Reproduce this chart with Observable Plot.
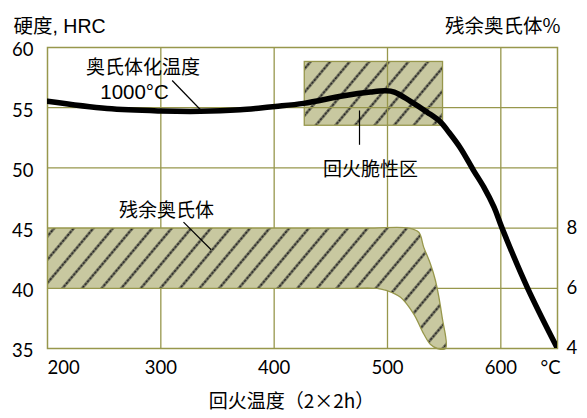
<!DOCTYPE html>
<html><head><meta charset="utf-8">
<script src="https://cdn.jsdelivr.net/npm/d3@7"></script>
<script src="https://cdn.jsdelivr.net/npm/@observablehq/plot@0.6"></script>
<style>
body{margin:0;background:#fff}
#chart svg{display:block}
g[aria-label="cjk"] text, g[aria-label="boxed"] text, g[aria-label="boxedwide"] text {letter-spacing:1.5px}
</style>
</head><body>
<svg width="0" height="0" style="position:absolute"><defs>
<pattern id="hatch" width="15" height="15" patternUnits="userSpaceOnUse" patternTransform="rotate(40)">
<rect width="15" height="15" fill="#c8c8a0"/>
<line x1="7.5" y1="0" x2="7.5" y2="15" stroke="#7a7a66" stroke-width="2.6"/>
<line x1="7.5" y1="0" x2="7.5" y2="15" stroke="#1e1e1e" stroke-width="1.6" stroke-dasharray="2.5 1.25"/>
</pattern></defs></svg>
<div id="chart"></div>
<script>
// Hardness curve (austenitized at 1000°C)
const hardTemp = [200, 252.6, 300, 335, 370, 388, 401, 426, 461.5, 485, 498, 506, 520, 535, 547, 553, 564, 576, 585, 594, 601, 623.5, 650];
const hardHRC  = [55.53, 54.93, 54.73, 54.7, 54.83, 54.98, 55.1, 55.36, 55.99, 56.3, 56.4, 56.3, 55.55, 54.63, 53.8, 53.1, 51.7, 49.78, 48.4, 46.74, 45.02, 40.04, 35];
// Retained austenite band (%), upper and lower edges
const upperTemp = [200, 480, 518.8, 527.6, 532, 537.9, 542.3, 548.2, 551.2];
const upperPct  = [8, 8, 8, 7.86, 7.36, 6.81, 6.26, 5.04, 4];
const lowerTemp = [200, 460, 490.9, 499.7, 511.5, 523.2, 532, 538, 543.9];
const lowerPct  = [6, 6, 6, 5.92, 5.7, 5.14, 4.48, 4.13, 4];
// Temper brittleness zone
const brittleTemp = [427, 549];
const brittleHRC  = [53.5, 58.8];
// Ticks
const xTicks = [200, 300, 400, 500, 600];
const yTicks = [35, 40, 45, 50, 55, 60];
const pctTicks = [4, 6, 8];
// Annotations
const labelText = ["奥氏体化温度", "1000°C", "残余奥氏体", "回火脆性区"];
const labelTemp = [284.3, 276.8, 305, 485];
const labelHRC  = [58.34, 56.26, 46.46, 49.87];
const leaderT1 = [310, 320, 475.3];
const leaderH1 = [57.26, 45.49, 54.77];
const leaderT2 = [335, 344.4, 475.3];
const leaderH2 = [54.83, 43.2, 51.92];

const olive = "#97974c";
const cjk = "'Noto Sans CJK SC', sans-serif";
const pctToHRC = p => 35 + (p - 4) * 2.5;

const hard = hardTemp.map((t, i) => ({t, h: hardHRC[i]}));
const band = [
  ...upperTemp.map((t, i) => ({t, h: pctToHRC(upperPct[i])})),
  ...lowerTemp.map((t, i) => ({t, h: pctToHRC(lowerPct[i])})).reverse()
];
const labels = labelText.map((s, i) => ({s, t: labelTemp[i], h: labelHRC[i]}));
const leaders = leaderT1.map((t, i) => ({t1: t, h1: leaderH1[i], t2: leaderT2[i], h2: leaderH2[i]}));
const brittle = [{x1: brittleTemp[0], x2: brittleTemp[1], y1: brittleHRC[0], y2: brittleHRC[1]}];

const plot = Plot.plot({
  width: 587, height: 418,
  marginLeft: 47, marginRight: 30, marginTop: 47, marginBottom: 70,
  x: {domain: [200, 650], axis: null},
  y: {domain: [35, 60], axis: null},
  style: {fontFamily: "Lato, sans-serif", fontSize: "18.5px", background: "white", color: "#000", overflow: "visible"},
  marks: [
    Plot.rect(brittle, {x1: "x1", x2: "x2", y1: "y1", y2: "y2", fill: "url(#hatch)", stroke: olive, strokeWidth: 1.3}),
    Plot.gridX(xTicks.slice(1), {stroke: olive, strokeOpacity: 1, strokeWidth: 1.3}),
    Plot.gridY(yTicks.slice(1, -1), {stroke: olive, strokeOpacity: 1, strokeWidth: 1.3}),
    Plot.text([labels[0], labels[2]], {x: "t", y: "h", text: "s", fontFamily: cjk, fontSize: 19, fill: "black", ariaLabel: "boxed"}),
    Plot.text([labels[1]], {x: "t", y: "h", text: "s", fontFamily: "'Liberation Sans', sans-serif", fontSize: 20.5, fill: "black", ariaLabel: "boxednum"}),
    Plot.text([labels[3]], {x: "t", y: "h", text: "s", fontFamily: cjk, fontSize: 19, fill: "black", ariaLabel: "boxedwide"}),
    Plot.line(band, {x: "t", y: "h", fill: "url(#hatch)", stroke: olive, strokeWidth: 1.3, curve: "catmull-rom"}),
    Plot.frame({stroke: olive, strokeWidth: 1.5}),
    Plot.link(leaders, {x1: "t1", y1: "h1", x2: "t2", y2: "h2", stroke: "black", strokeWidth: 1.2}),
    Plot.line(hard, {x: "t", y: "h", stroke: "black", strokeWidth: 5.5, curve: "catmull-rom", clip: true}),
    Plot.axisY(yTicks, {anchor: "left", tickSize: 0, tickPadding: 14, label: null, fontSize: 18.5, dy: 3}),
    Plot.axisY(pctTicks.map(pctToHRC), {anchor: "right", tickSize: 0, tickPadding: 9, label: null, fontSize: 18.5,
      tickFormat: h => String((h - 35) / 2.5 + 4)}),
    Plot.axisX(xTicks.slice(1), {anchor: "bottom", tickSize: 0, tickPadding: 12, label: null, fontSize: 18.5}),
    Plot.text(xTicks.slice(0, 1), {x: d => d, frameAnchor: "bottom", textAnchor: "start", lineAnchor: "top", dy: 12, fontSize: 18.5}),
    Plot.text(["°C"], {frameAnchor: "bottom-right", textAnchor: "end", lineAnchor: "top", dx: 3, dy: 12, fontSize: 18.5}),
    Plot.text(["硬度, HRC"], {frameAnchor: "top-left", textAnchor: "start", dx: -34, dy: -28.5,
      fontFamily: "'Liberation Sans', 'Noto Sans CJK SC', sans-serif", fontSize: 19.5}),
    Plot.text(["残余奥氏体%"], {frameAnchor: "top-right", textAnchor: "end", dx: 3, dy: -28.5,
      fontFamily: cjk, fontSize: 19.5, ariaLabel: "cjk"}),
    Plot.text(["回火温度（2×2h）"], {frameAnchor: "bottom", textAnchor: "middle", dx: -11, dy: 59,
      fontFamily: cjk, fontSize: 19})
  ]
});
document.getElementById("chart").appendChild(plot);

function boxLabels(sel, padX, padY) {
  plot.querySelectorAll(`g[aria-label="${sel}"] text`).forEach(t => {
    const b = t.getBBox();
    const r = document.createElementNS("http://www.w3.org/2000/svg", "rect");
    r.setAttribute("x", b.x - padX);
    r.setAttribute("y", b.y - padY);
    r.setAttribute("width", b.width + 2 * padX);
    r.setAttribute("height", b.height + 2 * padY);
    r.setAttribute("fill", "white");
    const tr = t.getAttribute("transform");
    if (tr) r.setAttribute("transform", tr);
    t.parentNode.insertBefore(r, t);
  });
}
boxLabels("boxed", 4, -2);
boxLabels("boxednum", 3, -3);
boxLabels("boxedwide", 20, 3);
</script>
</body></html>
